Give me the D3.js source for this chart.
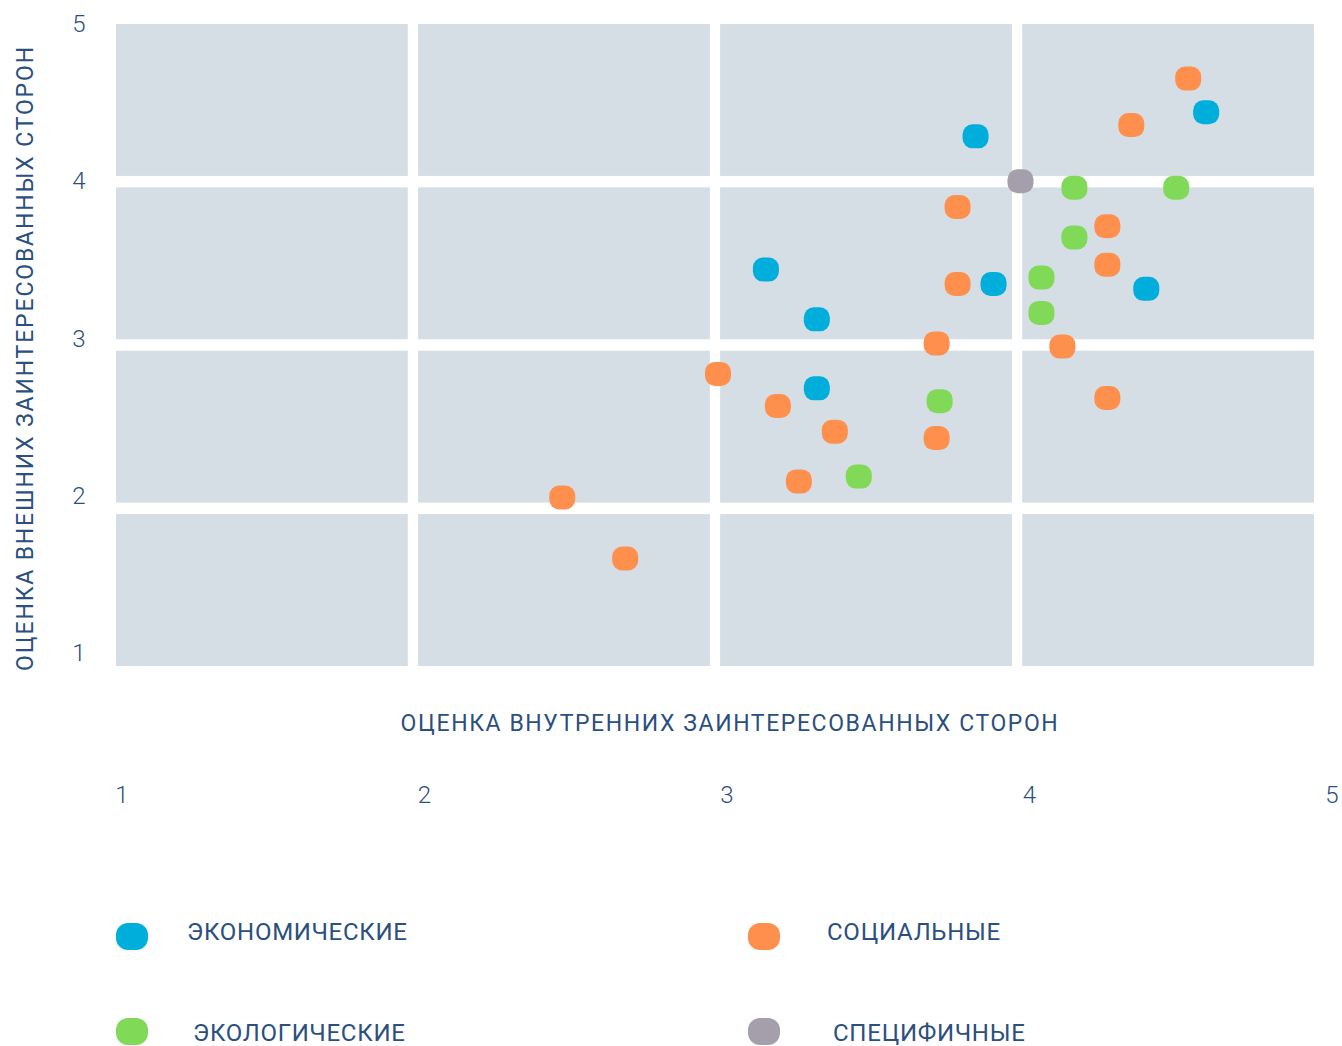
<!DOCTYPE html>
<html>
<head>
<meta charset="utf-8">
<script src="https://cdn.jsdelivr.net/npm/d3@7"></script>
<style>
  html, body { margin: 0; padding: 0; background: #fff; }
  svg { display: block; font-family: Roboto, "Noto Sans", sans-serif; }
</style>
</head>
<body>
<svg id="chart" width="1342" height="1046"></svg>
<script>
const xTicks = [1, 2, 3, 4, 5];
const yTicks = [1, 2, 3, 4, 5];
const xTitle = "ОЦЕНКА ВНУТРЕННИХ ЗАИНТЕРЕСОВАННЫХ СТОРОН";
const yTitle = "ОЦЕНКА ВНЕШНИХ ЗАИНТЕРЕСОВАННЫХ СТОРОН";
const seriesNames = ["ЭКОНОМИЧЕСКИЕ", "СОЦИАЛЬНЫЕ", "ЭКОЛОГИЧЕСКИЕ", "СПЕЦИФИЧНЫЕ"];
const seriesColors = ["#00aedb", "#ff8f4c", "#80d957", "#a49fab"];

const economic = [
  [3.87, 4.30], [4.64, 4.45], [3.17, 3.47], [3.34, 3.16],
  [3.93, 3.38], [4.44, 3.35], [3.34, 2.73]
];
const social = [
  [4.58, 4.66], [4.39, 4.37], [3.81, 3.86], [4.31, 3.74], [4.31, 3.50],
  [3.81, 3.38], [3.74, 3.01], [4.16, 2.99], [3.01, 2.82], [3.21, 2.62],
  [3.40, 2.46], [4.31, 2.67], [3.74, 2.42], [3.28, 2.15], [2.49, 2.05],
  [2.70, 1.67]
];
const ecological = [
  [4.20, 3.98], [4.54, 3.98], [4.20, 3.67], [4.09, 3.42],
  [4.09, 3.20], [3.75, 2.65], [3.48, 2.18]
];
const specific = [
  [4.02, 4.02]
];
const seriesData = [economic, social, ecological, specific];

const svg = d3.select("#chart");
const textColor = "#2b4f7e";
const plot = { left: 116, right: 1314, top: 24, bottom: 666 };

// data scales
const x = d3.scaleLinear().domain([1, 5]).range([plot.left, plot.right]);
const y = d3.scaleLinear().domain([1, 5]).range([plot.bottom, plot.top]);

// grid cells (4x4) via band scales
const cells = [0, 1, 2, 3];
const bx = d3.scaleBand().domain(cells).range([plot.left, plot.right]).paddingInner(0.034).paddingOuter(0);
const by = d3.scaleBand().domain(cells).range([plot.top, plot.bottom]).paddingInner(0.07).paddingOuter(0);
const grid = [];
cells.forEach(i => cells.forEach(j => grid.push([i, j])));
svg.append("g").selectAll("rect").data(grid).join("rect")
  .attr("x", d => bx(d[0])).attr("y", d => by(d[1]))
  .attr("width", bx.bandwidth()).attr("height", by.bandwidth())
  .attr("fill", "#d5dee5");

// tick labels
const xLab = d3.scaleLinear().domain([1, 5]).range([122, 1332]);
const yLab = d3.scaleLinear().domain([1, 5]).range([653, 24]);
svg.append("g").selectAll("text").data(xTicks).join("text")
  .attr("x", d => xLab(d)).attr("y", 795)
  .attr("text-anchor", "middle").attr("dominant-baseline", "central")
  .attr("font-size", 24).attr("font-weight", 300).attr("fill", textColor)
  .text(d => d);
svg.append("g").selectAll("text").data(yTicks).join("text")
  .attr("x", 79).attr("y", d => yLab(d))
  .attr("text-anchor", "middle").attr("dominant-baseline", "central")
  .attr("font-size", 24).attr("font-weight", 300).attr("fill", textColor)
  .text(d => d);

// axis titles
svg.append("text")
  .attr("x", 730).attr("y", 723)
  .attr("text-anchor", "middle").attr("dominant-baseline", "central")
  .attr("font-size", 23).attr("font-weight", 400).attr("letter-spacing", 1.6)
  .attr("fill", textColor)
  .text(xTitle);
svg.append("text")
  .attr("transform", "translate(25,358) rotate(-90)")
  .attr("text-anchor", "middle").attr("dominant-baseline", "central")
  .attr("font-size", 23).attr("font-weight", 400).attr("letter-spacing", 1.85)
  .attr("fill", textColor)
  .text(yTitle);

// markers
const mw = 26, mh = 24, mr = 10;
seriesData.forEach((arr, k) => {
  svg.append("g").selectAll("rect").data(arr).join("rect")
    .attr("x", d => x(d[0]) - mw / 2).attr("y", d => y(d[1]) - mh / 2)
    .attr("width", mw).attr("height", mh).attr("rx", mr).attr("ry", mr)
    .attr("fill", seriesColors[k]);
});

// legend
const legendCol = d3.scalePoint().domain([0, 1]).range([132, 764]);
const legendRow = d3.scalePoint().domain([0, 1]).range([936, 1031]);
const legendPos = [[0, 0], [1, 0], [0, 1], [1, 1]];
const legendTextOffset = [55, 63, 61, 69];
const lg = svg.append("g");
seriesNames.forEach((name, k) => {
  const cx = legendCol(legendPos[k][0]);
  const cy = legendRow(legendPos[k][1]);
  lg.append("rect")
    .attr("x", cx - 16).attr("y", cy - 13)
    .attr("width", 32).attr("height", 27).attr("rx", 12).attr("ry", 12)
    .attr("fill", seriesColors[k]);
  lg.append("text")
    .attr("x", cx + legendTextOffset[k]).attr("y", cy - 4 + (legendPos[k][1] ? 6 : 0))
    .attr("dominant-baseline", "central")
    .attr("font-size", 24).attr("font-weight", 400).attr("letter-spacing", 0.75)
    .attr("fill", textColor)
    .text(name);
});
</script>
</body>
</html>
